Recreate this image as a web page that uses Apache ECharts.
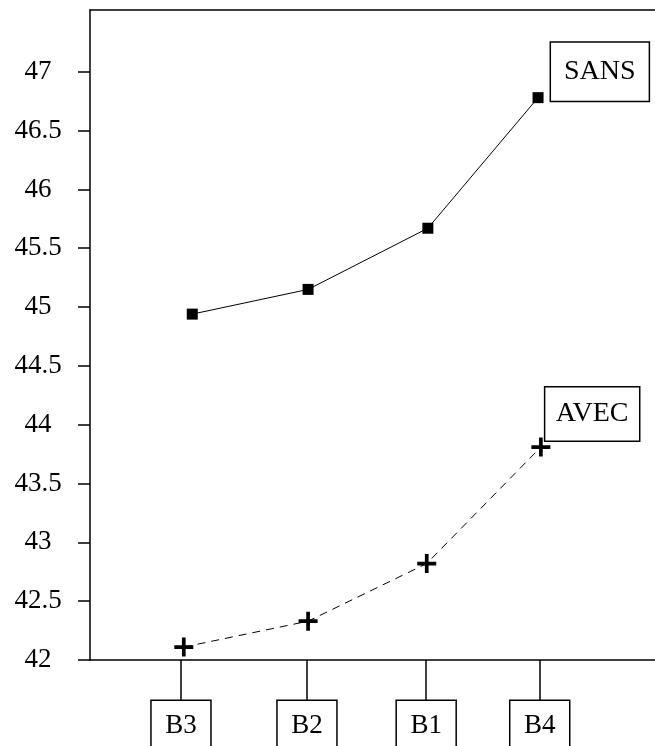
<!DOCTYPE html>
<html>
<head>
<meta charset="utf-8">
<style>
  html, body { margin: 0; padding: 0; background: #fff; }
  #chart { width: 655px; height: 746px; }
</style>
<script src="https://cdn.jsdelivr.net/npm/echarts@6/dist/echarts.min.js"></script>
</head>
<body>
<div id="chart"></div>
<script>
// categories and where they sit along the x axis (0..100)
var categories = ['B3', 'B2', 'B1', 'B4'];
var categoryX = [16.1, 38.4, 59.5, 79.6];

// series
var sansX = [18.1, 38.6, 59.8, 79.3];
var sansY = [44.94, 45.15, 45.67, 46.78];
var avecX = [16.6, 38.6, 59.6, 79.8];
var avecY = [42.11, 42.33, 42.82, 43.81];

// y tick labels
var yTicks = [42, 42.5, 43, 43.5, 44, 44.5, 45, 45.5, 46, 46.5, 47];

var font = 'Liberation Serif';
var plusPath = 'path://M7.25,0H10.75V7.25H18V10.75H10.75V18H7.25V10.75H0V7.25H7.25Z';

function buildData(xs, ys, name, lbl) {
    return xs.map(function (x, i) {
        var item = { value: [x, ys[i]] };
        if (i === xs.length - 1) {
            item.label = {
                show: true,
                formatter: name,
                position: lbl.position,
                align: 'left',
                verticalAlign: 'top',
                fontFamily: font,
                fontSize: 28,
                lineHeight: 28,
                color: '#000',
                backgroundColor: '#fff',
                borderColor: '#000',
                borderWidth: 1.5,
                padding: lbl.padding
            };
        }
        return item;
    });
}

var myChart = echarts.init(document.getElementById('chart'));
var option = {
    animation: false,
    backgroundColor: '#fff',
    grid: { left: 90, top: 10, right: 0, bottom: 86, outerBoundsMode: 'none', containLabel: false },
    xAxis: [{
        type: 'value',
        min: 0,
        max: 100,
        position: 'bottom',
        splitLine: { show: false },
        axisLine: { show: true, lineStyle: { color: '#000', width: 1.5 } },
        axisTick: {
            show: true,
            customValues: categoryX,
            length: 40,
            lineStyle: { color: '#000', width: 1.5 }
        },
        axisLabel: {
            customValues: categoryX,
            margin: 41,
            formatter: function (v) {
                var i = categoryX.indexOf(v);
                return i >= 0 ? categories[i] : '';
            },
            verticalAlign: 'top',
            fontFamily: font,
            fontSize: 27,
            lineHeight: 27,
            color: '#000',
            backgroundColor: '#fff',
            borderColor: '#000',
            borderWidth: 1.5,
            padding: [11, 13.5, 24, 13.5]
        }
    }, {
        type: 'value',
        min: 0,
        max: 100,
        position: 'top',
        splitLine: { show: false },
        axisLine: { show: true, lineStyle: { color: '#000', width: 1.5 } },
        axisTick: { show: false },
        axisLabel: { show: false }
    }],
    yAxis: {
        type: 'value',
        min: 42,
        max: 47.525,
        splitLine: { show: false },
        axisLine: { show: true, lineStyle: { color: '#000', width: 1.5 } },
        axisTick: {
            show: true,
            customValues: yTicks,
            length: 12,
            lineStyle: { color: '#000', width: 1.5 }
        },
        axisLabel: {
            customValues: yTicks,
            margin: 52,
            align: 'center',
            fontFamily: font,
            fontSize: 27,
            color: '#000'
        }
    },
    series: [{
        name: 'SANS',
        type: 'line',
        xAxisIndex: 0,
        data: buildData(sansX, sansY, 'SANS', { position: [18.5, -49.5], padding: [15, 13, 15, 13] }),
        symbol: 'rect',
        symbolSize: 11,
        itemStyle: { color: '#000' },
        lineStyle: { color: '#000', width: 1 }
    }, {
        name: 'AVEC',
        type: 'line',
        xAxisIndex: 0,
        data: buildData(avecX, avecY, 'AVEC', { position: [14, -50], padding: [12, 10.5, 13, 10.5] }),
        symbol: plusPath,
        symbolSize: 19,
        itemStyle: { color: '#000' },
        lineStyle: { color: '#000', width: 1, type: [8, 6] }
    }]
};

myChart.setOption(option);
window.addEventListener('resize', function () {
    myChart.resize();
});
</script>
</body>
</html>
